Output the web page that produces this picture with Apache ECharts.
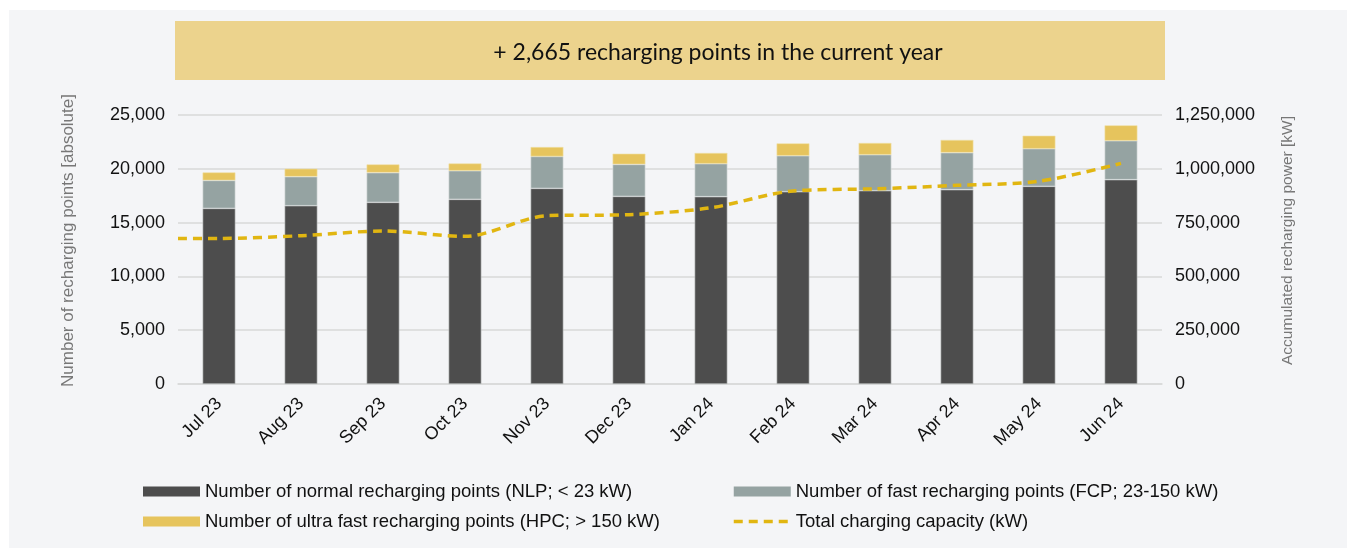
<!DOCTYPE html>
<html>
<head>
<meta charset="utf-8">
<script src="https://cdn.jsdelivr.net/npm/echarts@6/dist/echarts.min.js"></script>
<style>
  html, body { margin: 0; padding: 0; background: #ffffff; }
  #chart { width: 1356px; height: 550px; }
</style>
</head>
<body>
<div id="chart"></div>
<script>
var months = ['Jul 23', 'Aug 23', 'Sep 23', 'Oct 23', 'Nov 23', 'Dec 23',
              'Jan 24', 'Feb 24', 'Mar 24', 'Apr 24', 'May 24', 'Jun 24'];
var normalPoints = [16320, 16570, 16880, 17160, 18180, 17435, 17410, 17870, 17965, 18060, 18370, 18990];
var fastPoints = [2600, 2700, 2760, 2660, 2970, 2975, 3065, 3345, 3345, 3440, 3500, 3620];
var ultraFastPoints = [745, 740, 770, 680, 870, 995, 995, 1150, 1090, 1180, 1205, 1430];
var totalCapacity = [676600, 689000, 711000, 686000, 782000, 787000, 819000, 897000, 907000, 923000, 942000, 1025000];
var bannerText = '+ 2,665 recharging points in the current year';

var chartDom = document.getElementById('chart');
var myChart = echarts.init(chartDom);

function fmt(v) {
  return v.toLocaleString('en-US');
}

// the capacity line starts at the left edge of the plot, like in the original
var capacityPoints = [[-0.5, totalCapacity[0]]].concat(totalCapacity.map(function (v, i) {
  return [i, v];
}));

var font = 'Liberation Sans, Arial, sans-serif';

var option = {
  animation: false,
  backgroundColor: '#ffffff',
  graphic: [
    {
      type: 'rect',
      z: -10,
      shape: { x: 9, y: 10, width: 1338, height: 538 },
      style: { fill: '#f4f5f7' }
    },
    {
      type: 'rect',
      z: -5,
      shape: { x: 175, y: 21, width: 990, height: 59 },
      style: { fill: '#ecd38d' }
    },
    {
      type: 'text',
      x: 718,
      y: 53,
      style: {
        text: bannerText,
        fill: '#111111',
        font: '23px Lato, "Noto Sans", sans-serif',
        textAlign: 'center',
        textVerticalAlign: 'middle'
      }
    }
  ],
  grid: {
    left: 178,
    right: 194,
    top: 115,
    bottom: 166
  },
  legend: [
    {
      orient: 'vertical',
      left: 138,
      top: 477,
      icon: 'rect',
      itemWidth: 57,
      itemHeight: 10,
      itemGap: 11,
      itemStyle: { borderWidth: 0 },
      textStyle: { fontFamily: font, fontSize: 18.5, color: '#111111' },
      data: ['Number of normal recharging points (NLP; < 23 kW)',
             'Number of ultra fast recharging points (HPC; > 150 kW)']
    },
    {
      orient: 'vertical',
      left: 727,
      top: 477,
      itemWidth: 57,
      itemHeight: 10,
      itemGap: 11,
      itemStyle: { borderWidth: 0 },
      textStyle: { fontFamily: font, fontSize: 18.5, color: '#111111' },
      data: [
        { name: 'Number of fast recharging points (FCP; 23-150 kW)', icon: 'rect' },
        {
          name: 'Total charging capacity (kW)',
          itemStyle: { opacity: 0 },
          lineStyle: { width: 3.5, type: [9, 6] }
        }
      ]
    }
  ],
  xAxis: [
    {
      type: 'category',
      data: months,
      axisLine: { lineStyle: { color: '#d9d9d9', width: 1.5 } },
      axisTick: { show: false },
      axisLabel: {
        rotate: 45,
        margin: 17,
        fontFamily: font,
        fontSize: 18,
        color: '#111111'
      }
    },
    {
      type: 'value',
      show: false,
      min: -0.5,
      max: months.length - 0.5
    }
  ],
  yAxis: [
    {
      type: 'value',
      min: 0,
      max: 25000,
      interval: 5000,
      name: 'Number of recharging points [absolute]',
      nameLocation: 'middle',
      nameGap: 101,
      nameTextStyle: { fontFamily: font, fontSize: 17, color: '#777777', padding: [0, 0, 0, 18] },
      axisLine: { show: false },
      axisTick: { show: false },
      splitLine: { lineStyle: { color: '#d9d9d9', width: 1.5 } },
      axisLabel: {
        margin: 13,
        fontFamily: font,
        fontSize: 18,
        color: '#111111',
        formatter: fmt
      }
    },
    {
      type: 'value',
      min: 0,
      max: 1250000,
      interval: 250000,
      name: 'Accumulated recharging power [kW]',
      nameLocation: 'middle',
      nameGap: 118,
      nameRotate: 90,
      nameTextStyle: { fontFamily: font, fontSize: 15.5, color: '#777777', padding: [0, 0, 0, 18] },
      axisLine: { show: false },
      axisTick: { show: false },
      splitLine: { show: false },
      axisLabel: {
        margin: 13,
        fontFamily: font,
        fontSize: 18,
        color: '#111111',
        formatter: fmt
      }
    }
  ],
  series: [
    {
      name: 'Number of normal recharging points (NLP; < 23 kW)',
      type: 'bar',
      stack: 'points',
      barWidth: '40%',
      data: normalPoints,
      itemStyle: { color: '#4d4d4d', borderColor: '#bfc3c3', borderWidth: 0.6 }
    },
    {
      name: 'Number of fast recharging points (FCP; 23-150 kW)',
      type: 'bar',
      stack: 'points',
      data: fastPoints,
      itemStyle: { color: '#95a3a2', borderColor: '#d6dcdc', borderWidth: 0.6 }
    },
    {
      name: 'Number of ultra fast recharging points (HPC; > 150 kW)',
      type: 'bar',
      stack: 'points',
      data: ultraFastPoints,
      itemStyle: { color: '#e6c45d', borderColor: '#f0e0a8', borderWidth: 0.6 }
    },
    {
      name: 'Total charging capacity (kW)',
      type: 'line',
      xAxisIndex: 1,
      yAxisIndex: 1,
      smooth: 0.3,
      symbol: 'none',
      data: capacityPoints,
      itemStyle: { color: '#e1b611' },
      lineStyle: { color: '#e1b611', width: 3.5, type: [9, 6] }
    }
  ]
};

myChart.setOption(option);
</script>
</body>
</html>
